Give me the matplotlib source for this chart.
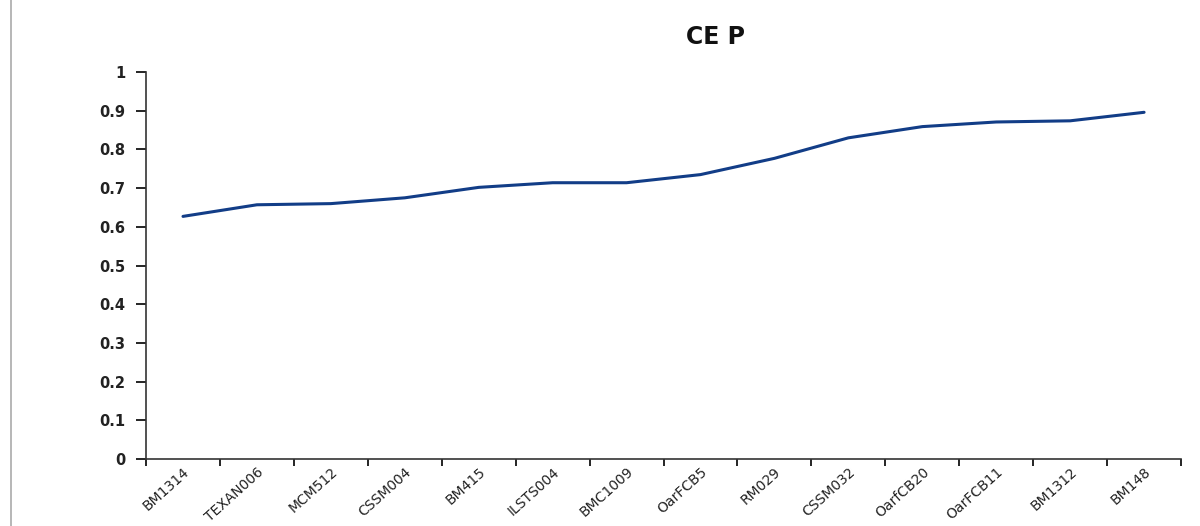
import matplotlib.pyplot as plt
from matplotlib.lines import Line2D

# marcadores y valores
marcadores = ['BM1314', 'TEXAN006', 'MCM512', 'CSSM004', 'BM415', 'ILSTS004',
              'BMC1009', 'OarFCB5', 'RM029', 'CSSM032', 'OarfCB20', 'OarFCB11',
              'BM1312', 'BM148']
valores = [0.627, 0.657, 0.660, 0.675, 0.702, 0.714, 0.714, 0.735, 0.777,
           0.830, 0.859, 0.871, 0.874, 0.896]
yticks = [0, 0.1, 0.2, 0.3, 0.4, 0.5, 0.6, 0.7, 0.8, 0.9, 1]
ytick_labels = ['0', '0.1', '0.2', '0.3', '0.4', '0.5', '0.6', '0.7', '0.8', '0.9', '1']

plt.rcParams['font.family'] = 'DejaVu Sans'

fig = plt.figure(figsize=(12, 5.26), dpi=100)
ax = fig.add_axes([0.1217, 0.1274, 0.8625, 0.7356])

x = list(range(len(marcadores)))
ax.plot(x, valores, color='#123d87', lw=2.2, solid_capstyle='round')

ax.set_xlim(-0.5, len(marcadores) - 0.5)
ax.set_ylim(0, 1)
ax.set_yticks(yticks)
ax.set_yticklabels(ytick_labels, fontsize=10.5, fontweight='bold', color='#222222')

# ticks del eje x entre categorias (estilo Excel)
ax.set_xticks([i - 0.5 for i in range(len(marcadores) + 1)])
ax.set_xticklabels([])
ax.set_xticks(x, minor=True)
ax.set_xticklabels(marcadores, minor=True, rotation=42, ha='right',
                   rotation_mode='anchor', fontsize=10, color='#222222')
ax.tick_params(axis='x', which='minor', length=0, pad=4)
ax.tick_params(axis='x', which='major', length=5, width=1.2, direction='out')
ax.tick_params(axis='y', length=7, width=1.2, direction='out', pad=8)

for s in ['top', 'right']:
    ax.spines[s].set_visible(False)
for s in ['left', 'bottom']:
    ax.spines[s].set_linewidth(1.2)
    ax.spines[s].set_color('#333333')

fig.text(0.596, 0.93, 'CE P', ha='center', va='center', fontsize=17,
         fontweight='bold', color='#111111')

# borde gris a la izquierda
fig.add_artist(Line2D([0.0095, 0.0095], [0, 1], color='#aaaaaa', lw=1.2,
                      transform=fig.transFigure))

plt.savefig('out.png', dpi=100)
